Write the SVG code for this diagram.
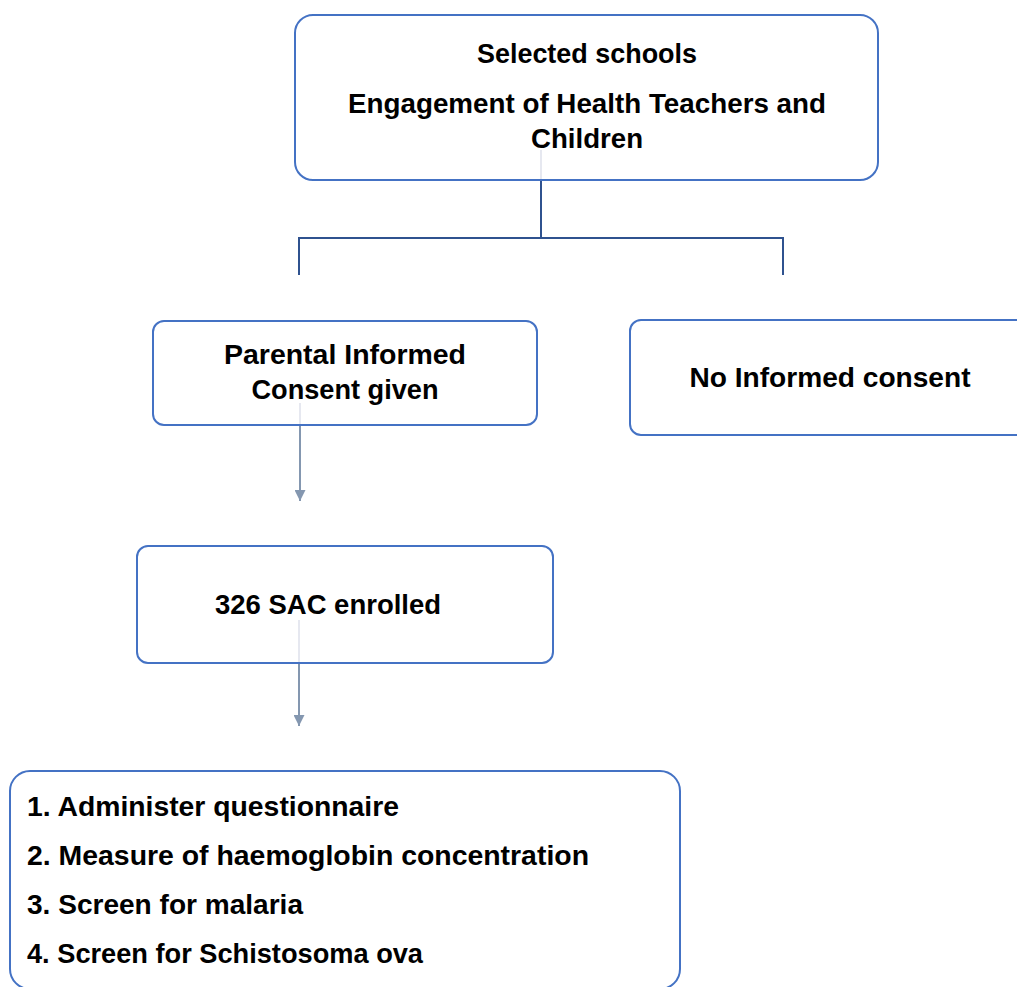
<svg xmlns="http://www.w3.org/2000/svg" width="1017" height="987" viewBox="0 0 1017 987">
<style>
.box{fill:#ffffff;stroke:#4472c4;stroke-width:2}
.t{font-family:"Liberation Sans",Arial,sans-serif;font-weight:bold;font-size:28px;fill:#000000}
.c{text-anchor:middle}
.conn{fill:none;stroke:#2f528f;stroke-width:2}
.arr{fill:none;stroke:#8497b0;stroke-width:2}
.faint{stroke:#e6e8f0;stroke-width:2}
</style>
<defs>
<marker id="ah" viewBox="0 0 10 10" refX="10" refY="5" markerWidth="11" markerHeight="11" markerUnits="userSpaceOnUse" orient="auto">
<path d="M0,0 L10,5 L0,10 Z" fill="#8497b0"/>
</marker>
</defs>
<rect width="1017" height="987" fill="#ffffff"/>
<g id="connectors">
<path class="conn" d="M541,180 V238 M299,238 H783 M299,237 V275 M783,237 V275"/>
<line class="arr" x1="300" y1="425" x2="300" y2="501" marker-end="url(#ah)"/>
<line class="arr" x1="299" y1="663" x2="299" y2="726" marker-end="url(#ah)"/>
</g>
<g id="node-schools">
<rect class="box" x="295" y="15" width="583" height="165" rx="18"/>
<line class="faint" x1="541" y1="150" x2="541" y2="179"/>
<text class="t c" x="587" y="63" textLength="220" lengthAdjust="spacingAndGlyphs">Selected schools</text>
<text class="t c" x="587" y="113" textLength="478" lengthAdjust="spacingAndGlyphs">Engagement of Health Teachers and</text>
<text class="t c" x="587" y="148" textLength="112" lengthAdjust="spacingAndGlyphs">Children</text>
</g>
<g id="node-consent">
<rect class="box" x="153" y="321" width="384" height="104" rx="11"/>
<line class="faint" x1="300" y1="403" x2="300" y2="424"/>
<text class="t c" x="345" y="364" textLength="242" lengthAdjust="spacingAndGlyphs">Parental Informed</text>
<text class="t c" x="345" y="399" textLength="187" lengthAdjust="spacingAndGlyphs">Consent given</text>
</g>
<g id="node-noconsent">
<rect class="box" x="630" y="320" width="420" height="115" rx="11"/>
<text class="t c" x="830" y="387" textLength="281" lengthAdjust="spacingAndGlyphs">No Informed consent</text>
</g>
<g id="node-enrolled">
<rect class="box" x="137" y="546" width="416" height="117" rx="11"/>
<line class="faint" x1="299" y1="620" x2="299" y2="662"/>
<text class="t c" x="328" y="614" textLength="226" lengthAdjust="spacingAndGlyphs">326 SAC enrolled</text>
</g>
<g id="node-activities">
<rect class="box" x="10" y="771" width="670" height="218" rx="20"/>
<text class="t" x="27" y="816" textLength="372" lengthAdjust="spacingAndGlyphs">1. Administer questionnaire</text>
<text class="t" x="27" y="865" textLength="562" lengthAdjust="spacingAndGlyphs">2. Measure of haemoglobin concentration</text>
<text class="t" x="27" y="914" textLength="276" lengthAdjust="spacingAndGlyphs">3. Screen for malaria</text>
<text class="t" x="27" y="963" textLength="396" lengthAdjust="spacingAndGlyphs">4. Screen for Schistosoma ova</text>
</g>
</svg>
